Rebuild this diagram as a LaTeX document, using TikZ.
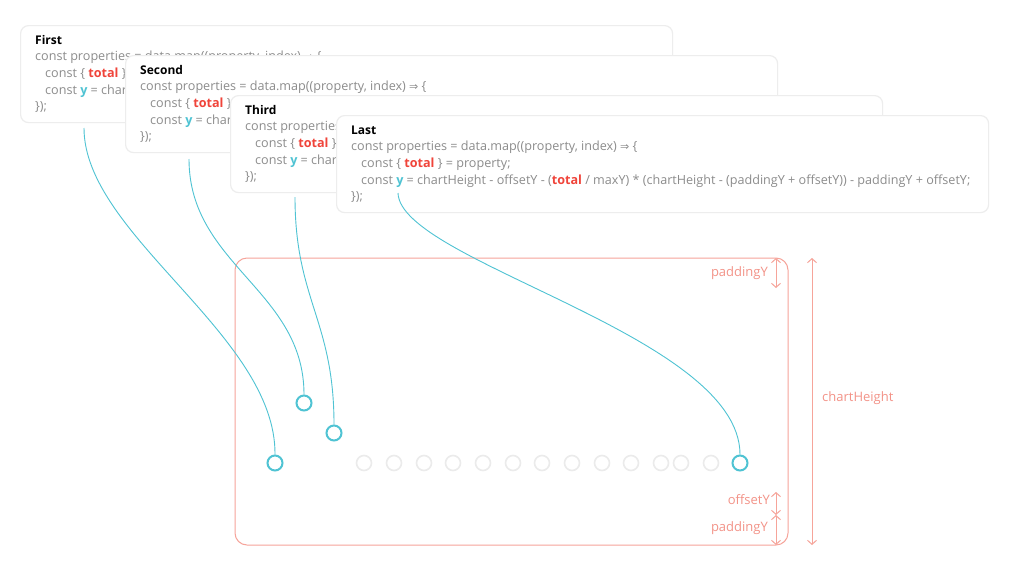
\documentclass[tikz,border=0pt]{standalone}
\usepackage{fontspec}
\setmainfont{Open Sans}
\newfontfamily\symfont{DejaVu Sans}
\usetikzlibrary{arrows.meta}
\definecolor{codegrey}{HTML}{8C8C8C}
\definecolor{totred}{HTML}{F0443A}
\definecolor{ycyan}{HTML}{4FC3D3}
\definecolor{salmon}{HTML}{F6A49A}
\definecolor{salmontext}{HTML}{F39388}
\definecolor{dotgrey}{HTML}{EBEBEB}
\definecolor{cardedge}{HTML}{EDEDED}
\newcommand{\Ctot}{\textcolor{totred}{\bfseries total}}
\newcommand{\Cy}{\textcolor{ycyan}{\bfseries y}}
\newcommand{\Carr}{{\symfont\fontsize{11}{12}\selectfont ⇒}}
\tikzset{
  card/.style={draw=cardedge, fill=white, rounded corners=8pt, line width=1.2pt,
    minimum width=652pt, minimum height=97pt, anchor=north west, inner sep=0pt},
  cardtitle/.style={anchor=base west, font=\fontsize{12}{14}\selectfont\bfseries, text=black, inner sep=0pt},
  codeline/.style={anchor=base west, font=\fontsize{12.6}{14}\selectfont, text=codegrey, inner sep=0pt},
  link/.style={draw=ycyan, line width=0.9pt},
  cyc/.style={circle, draw=ycyan, line width=2pt, minimum size=15pt, inner sep=0pt},
  greydot/.style={circle, draw=dotgrey, line width=1.6pt, minimum size=15pt, inner sep=0pt},
  dim/.style={draw=salmon, line width=1pt, {Straight Barb[length=4pt,width=9pt]}-{Straight Barb[length=4pt,width=9pt]}},
  dimlabel/.style={text=salmontext, font=\fontsize{13}{15}\selectfont, inner sep=0pt},
}
\newcommand{\codecard}[4]{%
  \begin{scope}[shift={(#2,#3)}]
    \node[card] (#1) at (0,0) {};
    \node[cardtitle] (#1t) at (15,19) {#4};
    \node[codeline] (#1a) at (15,35) {const properties = data.map((property, index) \Carr\ \{};
    \node[codeline] (#1b) at (25,52) {const \{ \Ctot\ \} = property;};
    \node[codeline] (#1c) at (25,69) {const \Cy\ = chartHeight - offsetY - (\Ctot\ / maxY) * (chartHeight - (paddingY + offsetY)) - paddingY + offsetY;};
    \node[codeline] (#1d) at (15,85) {\});};
  \end{scope}}
\begin{document}
\begin{tikzpicture}[x=1pt,y=-1pt]
\useasboundingbox (0,0) rectangle (1024,576);
\fill[white] (0,0) rectangle (1024,576);

\codecard{cA}{20}{25}{First}
\codecard{cB}{125}{55}{Second}
\codecard{cC}{230}{95}{Third}
\codecard{cD}{336}{115}{Last}

% chart frame
\draw[salmon, line width=1pt, rounded corners=12pt] (235,258) rectangle (788,545);

% dimension lines
\coordinate (pt1) at (776,258); \coordinate (pt2) at (776,288);
\coordinate (of1) at (776,492); \coordinate (of2) at (776,515);
\coordinate (pb2) at (776,545);
\coordinate (ch1) at (812,258); \coordinate (ch2) at (812,545);
\draw[dim] (pt1) -- (pt2);
\draw[dim] (of1) -- (of2);
\draw[dim] (of2) -- (pb2);
\draw[dim] (ch1) -- (ch2);
\node[dimlabel, anchor=east] (lpt) at (768,273) {paddingY};
\node[dimlabel, anchor=east] (lof) at (770,500) {offsetY};
\node[dimlabel, anchor=east] (lpb) at (768,528) {paddingY};
\node[dimlabel, anchor=west] (lch) at (822,398) {chartHeight};

% grey points
\foreach \i/\x in {1/364,2/394,3/424,4/453,5/483,6/513,7/542,8/572,9/602,10/631,11/661,12/681,13/711}
  \node[greydot] (g\i) at (\x,463) {};

% cyan points
\node[cyc] (p1) at (275,463) {};
\node[cyc] (p2) at (304,403) {};
\node[cyc] (p3) at (334,433) {};
\node[cyc] (p4) at (740,463) {};

% connectors
\coordinate (s1) at (84,128);
\coordinate (s2) at (189,159);
\coordinate (s3) at (295,197);
\coordinate (s4) at (398,193);
\draw[link] (s1) .. controls (84,235) and (276,335) .. (p1.north);
\draw[link] (s2) .. controls (189,265) and (304,290) .. (p2.north);
\draw[link] (s3) .. controls (295,300) and (334,320) .. (p3.north);
\draw[link] (s4) .. controls (400,262) and (740,335) .. (p4.north);
\end{tikzpicture}
\end{document}
